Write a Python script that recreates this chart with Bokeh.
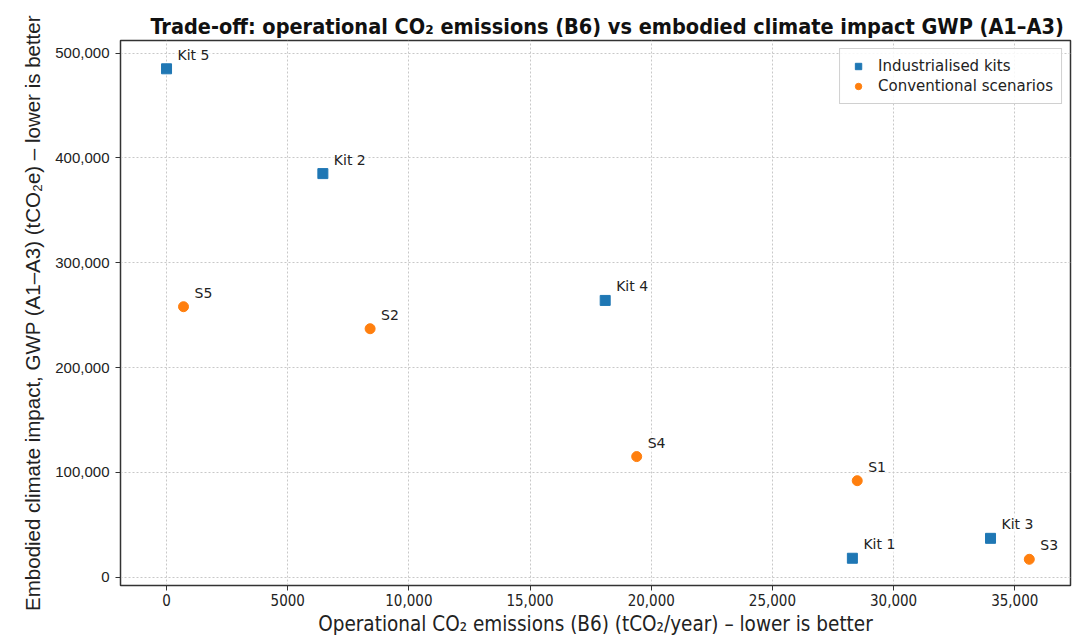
from bokeh.plotting import figure
from bokeh.models import (ColumnDataSource, FixedTicker, NumeralTickFormatter,
                          Range1d, Legend, LegendItem)
from bokeh.core.properties import value
from bokeh.embed import file_html
from bokeh.resources import INLINE

# Industrialised kits
kit_names = ["Kit 1", "Kit 2", "Kit 3", "Kit 4", "Kit 5"]
kit_b6 = [28300, 6450, 34000, 18100, 0]
kit_gwp = [18000, 385000, 37000, 264000, 485000]

# Conventional scenarios
scn_names = ["S1", "S2", "S3", "S4", "S5"]
scn_b6 = [28500, 8400, 35600, 19400, 700]
scn_gwp = [92000, 237000, 17000, 115000, 258000]

x_ticks = [0, 5000, 10000, 15000, 20000, 25000, 30000, 35000]
y_ticks = [0, 100000, 200000, 300000, 400000, 500000]

BLUE = "#1f77b4"
ORANGE = "#ff7f0e"
NARROW = "'DejaVu Sans Condensed', Roboto, sans-serif"

kits = ColumnDataSource(dict(x=kit_b6, y=kit_gwp, name=kit_names))
scns = ColumnDataSource(dict(x=scn_b6, y=scn_gwp, name=scn_names))

p = figure(width=1080, height=641, output_backend="svg", toolbar_location=None,
           x_range=Range1d(-1900, 37300), y_range=Range1d(-8000, 512000),
           min_border_left=120, min_border_right=10, min_border_top=40,
           min_border_bottom=56)

p.title.text = "Trade-off: operational CO\u2082 emissions (B6) vs embodied climate impact GWP (A1\u2013A3)"
p.title.text_font = NARROW
p.title.text_font_size = "21.5px"
p.title.text_font_style = "bold"
p.title.text_color = "#111111"
p.title.align = "left"
p.title.offset = 30
p.title.standoff = 4

p.outline_line_color = "#333333"
p.outline_line_width = 1.5

for g in (p.xgrid, p.ygrid):
    g.grid_line_color = "#c8c8c8"
    g.grid_line_dash = "2 2"
    g.grid_line_width = 1

p.xaxis.ticker = FixedTicker(ticks=x_ticks)
p.yaxis.ticker = FixedTicker(ticks=y_ticks)
p.xaxis.formatter = NumeralTickFormatter(format="0,0")
p.xaxis.major_label_overrides = {5000: "5000"}
p.yaxis.formatter = NumeralTickFormatter(format="0,0")

for ax in (p.xaxis[0], p.yaxis[0]):
    ax.axis_line_color = "#333333"
    ax.major_tick_line_color = "#333333"
    ax.major_tick_out = 5
    ax.major_tick_in = 0
    ax.minor_tick_line_color = None
    ax.axis_label_text_font_style = "normal"
    ax.major_label_text_color = "#222222"
    ax.axis_label_text_color = "#222222"

p.xaxis.axis_label = "Operational CO\u2082 emissions (B6) (tCO\u2082/year) \u2013 lower is better"
p.xaxis.axis_label_text_font = NARROW
p.xaxis.axis_label_text_font_size = "20.5px"
p.xaxis.axis_label_standoff = 3
p.xaxis.major_label_text_font = NARROW
p.xaxis.major_label_text_font_size = "15px"
p.xaxis.major_label_standoff = 3

p.yaxis.axis_label = "Embodied climate impact, GWP (A1\u2013A3) (tCO\u2082e) \u2013 lower is better"
p.yaxis.axis_label_text_font = "Liberation Sans"
p.yaxis.axis_label_text_font_size = "20.5px"
p.yaxis.axis_label_standoff = 8
p.yaxis.major_label_text_font = "Liberation Sans"
p.yaxis.major_label_text_font_size = "15px"
p.yaxis.major_label_standoff = 6

r_kit = p.scatter("x", "y", source=kits, marker="square", size=10,
                  fill_color=BLUE, line_color=BLUE)
r_scn = p.scatter("x", "y", source=scns, marker="circle", size=10,
                  fill_color=ORANGE, line_color=ORANGE)

for src in (kits, scns):
    p.text("x", "y", text="name", source=src, x_offset=9, y_offset=-4,
           text_font=value("DejaVu Sans"), text_font_size="14px",
           text_color="#222222", text_baseline="bottom", text_align="left",
           background_fill_color="white", background_fill_alpha=0.6,
           padding=2)

legend = Legend(items=[LegendItem(label="Industrialised kits", renderers=[r_kit]),
                       LegendItem(label="Conventional scenarios", renderers=[r_scn])],
                location="top_right")
legend.label_text_font = "DejaVu Sans"
legend.label_text_font_size = "15px"
legend.label_text_color = "#222222"
legend.border_line_color = "#d0d0d0"
legend.border_line_alpha = 1
legend.background_fill_alpha = 0.85
legend.glyph_width = 20
legend.glyph_height = 16
legend.spacing = 2
legend.padding = 8
legend.margin = 8
legend.label_standoff = 10
p.add_layout(legend)

open("out.html", "w").write(file_html(p, INLINE))
